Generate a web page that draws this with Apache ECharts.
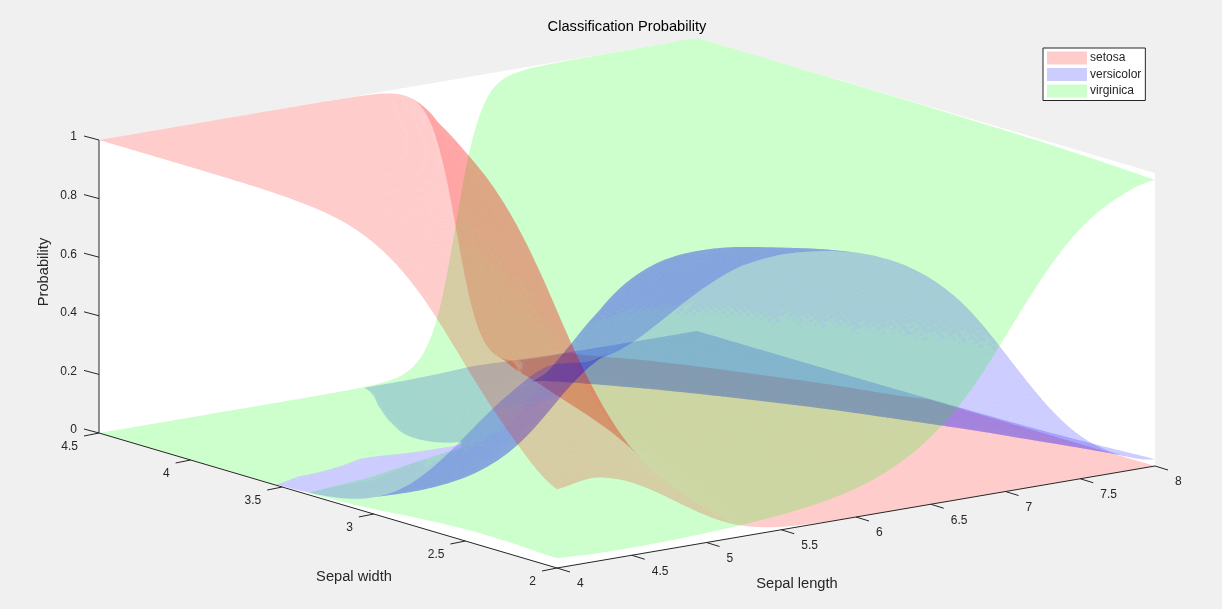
<!DOCTYPE html>
<html><head><meta charset="utf-8">
<style>html,body{margin:0;padding:0;background:#f0f0f0}#c{width:1222px;height:609px}</style>
<script src="https://cdn.jsdelivr.net/npm/echarts@6/dist/echarts.min.js"></script>
</head><body><div id="c"></div>
<script>
// Grid axes of the surfaces
const sepalLength = [4,4.25,4.5,4.75,5,5.25,5.5,5.75,6,6.25,6.5,6.75,7,7.25,7.5,7.75,8];
const sepalWidth = [2,2.25,2.5,2.75,3,3.25,3.5,3.75,4,4.25,4.5];
// One row per sepal width, one column per sepal length
const setosa = [
[.269,.286,.248,.173,.092,.035,.01,.002,.0003,0,0,0,0,0,0,0,0],
[.406,.427,.38,.281,.158,.063,.019,.004,.0006,.0001,0,0,0,0,0,0,0],
[.60,.622,.58,.465,.294,.13,.04,.008,.0012,.0001,0,0,0,0,0,0,0],
[.80,.815,.786,.70,.527,.285,.098,.021,.003,.0003,0,0,0,0,0,0,0],
[.925,.932,.921,.88,.778,.553,.25,.061,.009,.001,.0001,0,0,0,0,0,0],
[.978,.981,.978,.965,.929,.82,.542,.183,.03,.003,.0002,0,0,0,0,0,0],
[.994,.995,.995,.992,.982,.949,.824,.458,.099,.01,.0006,0,0,0,0,0,0],
[.9987,.999,.9988,.9982,.996,.988,.954,.78,.306,.036,.002,.0001,0,0,0,0,0],
[.9997,.9997,.9997,.9996,.9992,.9976,.99,.943,.665,.139,.009,.0003,0,0,0,0,0],
[1,1,1,1,.9999,.9995,.998,.989,.91,.44,.04,.001,0,0,0,0,0],
[1,1,1,1,1,.9999,.9996,.998,.983,.82,.2,.0095,.0002,0,0,0,0]];
const versicolor = [
[.697,.687,.725,.80,.875,.925,.939,.929,.902,.852,.77,.645,.47,.289,.147,.063,.023],
[.554,.54,.588,.683,.80,.88,.91,.896,.858,.793,.69,.547,.37,.213,.102,.042,.016],
[.358,.345,.387,.494,.648,.789,.851,.845,.795,.71,.587,.435,.273,.147,.068,.027,.01],
[.17,.161,.188,.265,.414,.615,.747,.765,.707,.605,.47,.325,.19,.097,.043,.018,.006],
[.057,.054,.064,.098,.179,.35,.558,.64,.587,.479,.348,.224,.124,.061,.026,.011,.0038],
[.014,.014,.016,.026,.051,.124,.29,.456,.45,.35,.238,.145,.077,.037,.016,.0062,.0022],
[.0029,.0027,.0033,.0052,.0107,.028,.087,.226,.295,.232,.15,.088,.045,.021,.0089,.0035,.0012],
[.0005,.0004,.0005,.0008,.0017,.0048,.016,.0615,.146,.139,.088,.05,.025,.0117,.0049,.0019,.0007],
[.0001,.0001,.0001,.0001,.0002,.0006,.0022,.0099,.042,.071,.049,.027,.0137,.0063,.0027,.001,.0004],
[0,0,0,0,0,.0001,.0002,.0011,.0063,.02,.025,.0145,.0071,.0033,.0014,.0005,.0002],
[0,0,0,0,0,0,0,.0001,.0006,.0039,.0101,.0068,.0034,.0016,.0007,.0003,.0001]];
const virginica = [
[.033,.027,.026,.028,.033,.04,.051,.069,.098,.148,.23,.355,.53,.711,.853,.937,.977],
[.04,.033,.032,.036,.046,.057,.075,.10,.14,.207,.31,.453,.63,.787,.898,.958,.984],
[.04,.033,.033,.041,.058,.081,.11,.147,.204,.29,.413,.565,.727,.853,.932,.973,.99],
[.031,.024,.026,.035,.06,.10,.154,.214,.29,.395,.53,.675,.81,.903,.957,.982,.994],
[.017,.014,.015,.022,.043,.095,.191,.298,.402,.52,.652,.776,.876,.939,.974,.989,.996],
[.0075,.0059,.0064,.01,.0208,.0571,.168,.361,.52,.647,.762,.855,.923,.963,.984,.994,.998],
[.0027,.0021,.0023,.0035,.0078,.0233,.09,.316,.606,.758,.85,.912,.955,.979,.991,.996,.999],
[.0008,.0006,.0007,.001,.0023,.007,.0303,.158,.546,.826,.91,.95,.975,.988,.995,.998,.999],
[.0002,.0002,.0002,.0003,.0006,.0018,.0077,.047,.293,.79,.942,.973,.986,.994,.997,.999,.9996],
[0,0,0,0,.0001,.0004,.0016,.0099,.084,.53,.93,.985,.993,.997,.9986,.9995,.9998],
[0,0,0,0,0,0,.0003,.0019,.0166,.176,.79,.982,.9964,.9984,.9993,.9997,.9999]];
// Tick labels
const lengthTicks = [4,4.5,5,5.5,6,6.5,7,7.5,8];
const widthTicks = [2,2.5,3,3.5,4,4.5];
const probTicks = [0,0.2,0.4,0.6,0.8,1];

// View of the 3D box (pixels of the hidden 2D plane)
const ORIGIN=[557,568], LEN_SPAN=[598,-102], WID_SPAN=[-458,-135], PROB_SPAN=[0,-293];
function project(x,y,z){
  const a=(x-4)/4, b=(y-2)/2.5;
  return [ORIGIN[0]+a*LEN_SPAN[0]+b*WID_SPAN[0]+z*PROB_SPAN[0],
          ORIGIN[1]+a*LEN_SPAN[1]+b*WID_SPAN[1]+z*PROB_SPAN[1]];
}

echarts.graphic.registerShape('triangles', echarts.graphic.extendShape({
  shape:{pts:[]},
  buildPath(ctx,shape){
    const p=shape.pts;
    for(let i=0;i+5<p.length;i+=6){
      ctx.moveTo(p[i],p[i+1]);ctx.lineTo(p[i+2],p[i+3]);ctx.lineTo(p[i+4],p[i+5]);ctx.closePath();
    }
  }
}));

// Draw-time smoothing of each sheet between its grid values (like a line's smooth option)
const SUB=10, REFINE=3, FLOOR=4e-5, BINS=150, DEPTH_EPS=0.0022, NEAR_FLOOR=0.02, TIE=0.0014;
function cr(p0,p1,p2,p3,t){return 0.5*((2*p1)+(-p0+p2)*t+(2*p0-5*p1+4*p2-p3)*t*t+(-p0+3*p1-3*p2+p3)*t*t*t);}
function logit(p){const q=Math.max(FLOOR,Math.min(1-FLOOR,p));return Math.log(q/(1-q));}
const logits=[setosa,versicolor,virginica].map(zs=>zs.map(r=>r.map(logit)));
const NX=sepalLength.length, NY=sepalWidth.length;
// gx, gy are positions in grid-index units
function sheetAt(k,gx,gy){
  const L=logits[k];
  const i=Math.min(NX-2,Math.floor(gx)),j=Math.min(NY-2,Math.floor(gy)),u=gx-i,v=gy-j;
  const at=(a,b)=>L[Math.max(0,Math.min(NY-1,a))][Math.max(0,Math.min(NX-1,b))];
  const c=[-1,0,1,2].map(d=>cr(at(j+d,i-1),at(j+d,i),at(j+d,i+1),at(j+d,i+2),u));
  return 1/(1+Math.exp(-cr(c[0],c[1],c[2],c[3],v)));
}
const lenAt=g=>{const i=Math.min(NX-2,Math.floor(g));return sepalLength[i]+(g-i)*(sepalLength[i+1]-sepalLength[i]);};
const widAt=g=>{const j=Math.min(NY-2,Math.floor(g));return sepalWidth[j]+(g-j)*(sepalWidth[j+1]-sepalWidth[j]);};
// Sheets lying almost together on the floor hide each other, as in a depth buffer
function hiddenAt(k,gx,gy){
  const zk=sheetAt(k,gx,gy);
  if(zk>=NEAR_FLOOR)return false;
  for(let m=0;m<3;m++){
    if(m===k)continue;
    const zm=sheetAt(m,gx,gy);
    if(Math.abs(zm-zk)>=DEPTH_EPS)continue;
    if(Math.max(zm,zk)<TIE){ if(m>k)return true; }
    else if(zm>zk)return true;
  }
  return false;
}
function buckets(k){
  const map={};
  const emit=(bin,x0,x1,y0,y1)=>{
    const p=(gx,gy)=>project(lenAt(gx),widAt(gy),sheetAt(k,gx,gy));
    const a=p(x0,y0),b=p(x1,y0),c=p(x1,y1),d=p(x0,y1);
    const sgn=(A,B,C)=>(B[0]-A[0])*(C[1]-A[1])-(B[1]-A[1])*(C[0]-A[0]);
    const s1=sgn(a,b,c),s2=sgn(a,c,d),net=s1+s2;
    if(net===0)return;
    const key=bin+'_'+(net>0?1:0);
    const g=map[key]=map[key]||{bin,pts:[]};
    if(s1*net>=0)g.pts.push(a,b,c);else g.pts.push(a,c,b);
    if(s2*net>=0)g.pts.push(a,c,d);else g.pts.push(a,d,c);
  };
  const walk=(bin,x0,x1,y0,y1,depth)=>{
    const hs=[hiddenAt(k,x0,y0),hiddenAt(k,x1,y0),hiddenAt(k,x1,y1),hiddenAt(k,x0,y1)];
    const n=hs.filter(Boolean).length;
    if(n===4)return;
    if(n===0){emit(bin,x0,x1,y0,y1);return;}
    if(depth>=REFINE){ if(n<=2)emit(bin,x0,x1,y0,y1); return; }
    const xm=(x0+x1)/2,ym=(y0+y1)/2;
    walk(bin,x0,xm,y0,ym,depth+1);walk(bin,xm,x1,y0,ym,depth+1);
    walk(bin,x0,xm,ym,y1,depth+1);walk(bin,xm,x1,ym,y1,depth+1);
  };
  for(let J=0;J<(NY-1)*SUB;J++)for(let I=0;I<(NX-1)*SUB;I++){
    const x0=I/SUB,x1=(I+1)/SUB,y0=J/SUB,y1=(J+1)/SUB;
    const zm=(sheetAt(k,x0,y0)+sheetAt(k,x1,y0)+sheetAt(k,x1,y1)+sheetAt(k,x0,y1))/4;
    walk(Math.min(BINS-1,Math.floor(zm*BINS)),x0,x1,y0,y1,0);
  }
  return Object.values(map);
}
function surfaceSeries(name,k,color){
  const groups=buckets(k);
  return {
    type:'custom',name,coordinateSystem:'cartesian2d',silent:true,clip:false,z:2,
    itemStyle:{color},data:groups.map((g,i)=>[i]),
    renderItem(params,api){
      const g=groups[api.value(0)],pts=[];
      g.pts.forEach(q=>{const c=api.coord(q);pts.push(c[0],c[1]);});
      return {type:'triangles',z2:g.bin*3+k,shape:{pts},style:{fill:color,stroke:null}};
    }
  };
}
const INK='#262626', FONT='"Liberation Sans",Arial,sans-serif';
const boxSeries={
  type:'custom',coordinateSystem:'cartesian2d',silent:true,clip:false,z:1,data:[[0]],
  renderItem(params,api){
    const c=(x,y,z)=>api.coord(project(x,y,z));
    return {type:'polygon',shape:{points:[c(4,4.5,0),c(4,4.5,1),c(8,4.5,1),c(8,2,1),c(8,2,0),c(4,2,0)]},style:{fill:'#fff'}};
  }
};
function line(a,b){return {type:'line',shape:{x1:a[0],y1:a[1],x2:b[0],y2:b[1]},style:{stroke:INK,lineWidth:1}};}
function text(s,p,align,vert,size,rot){
  return {type:'text',x:p[0],y:p[1],rotation:rot||0,style:{text:s,align,verticalAlign:vert,fontSize:size,fontFamily:FONT,fill:INK}};
}
const axisSeries={
  type:'custom',coordinateSystem:'cartesian2d',silent:true,clip:false,z:5,data:[[0]],
  renderItem(params,api){
    const c=(x,y,z)=>api.coord(project(x,y,z)),k=[];
    k.push(line(c(4,4.5,0),c(4,4.5,1)),line(c(4,4.5,0),c(4,2,0)),line(c(4,2,0),c(8,2,0)));
    probTicks.forEach(t=>{const b=c(4,4.5,t);k.push(line(b,[b[0]-15,b[1]-4]),text(String(t),[b[0]-22,b[1]-3],'right','middle',12));});
    widthTicks.forEach(t=>{const b=c(4,t,0);k.push(line(b,[b[0]-15,b[1]+3]),text(String(t),[b[0]-21,b[1]+14],'right','middle',12));});
    lengthTicks.forEach(t=>{const b=c(t,2,0);k.push(line(b,[b[0]+13,b[1]+4]),text(String(t),[b[0]+20,b[1]+16],'left','middle',12));});
    k.push(text('Sepal width',[354,577],'center','middle',14.67));
    k.push(text('Sepal length',[797,584],'center','middle',14.67));
    k.push(text('Probability',[44,272],'center','middle',14.67,Math.PI/2));
    return {type:'group',children:k};
  }
};
const chart=echarts.init(document.getElementById('c'),null,{renderer:'canvas'});
chart.setOption({
  animation:false,backgroundColor:'#f0f0f0',
  title:{text:'Classification Probability',left:627,top:19,textAlign:'center',padding:0,
    textStyle:{fontSize:14.67,fontWeight:'normal',color:'#000',fontFamily:FONT}},
  legend:{data:['setosa','versicolor','virginica'],orient:'vertical',left:1043,top:48,
    icon:'rect',itemWidth:40,itemHeight:13,itemGap:3.5,padding:[3.5,4,3,4],
    backgroundColor:'#fff',borderColor:INK,borderWidth:1,borderRadius:0,selectedMode:false,
    textStyle:{fontSize:12,color:INK,fontFamily:FONT,padding:[0,0,0,-2]}},
  grid:{left:0,top:0,width:1222,height:609},
  xAxis:{type:'value',min:0,max:1222,show:false},
  yAxis:{type:'value',min:0,max:609,inverse:true,show:false},
  series:[boxSeries,
    surfaceSeries('setosa',0,'rgba(255,0,0,0.2)'),
    surfaceSeries('versicolor',1,'rgba(0,0,255,0.2)'),
    surfaceSeries('virginica',2,'rgba(0,255,0,0.2)'),
    axisSeries]
});
</script></body></html>
